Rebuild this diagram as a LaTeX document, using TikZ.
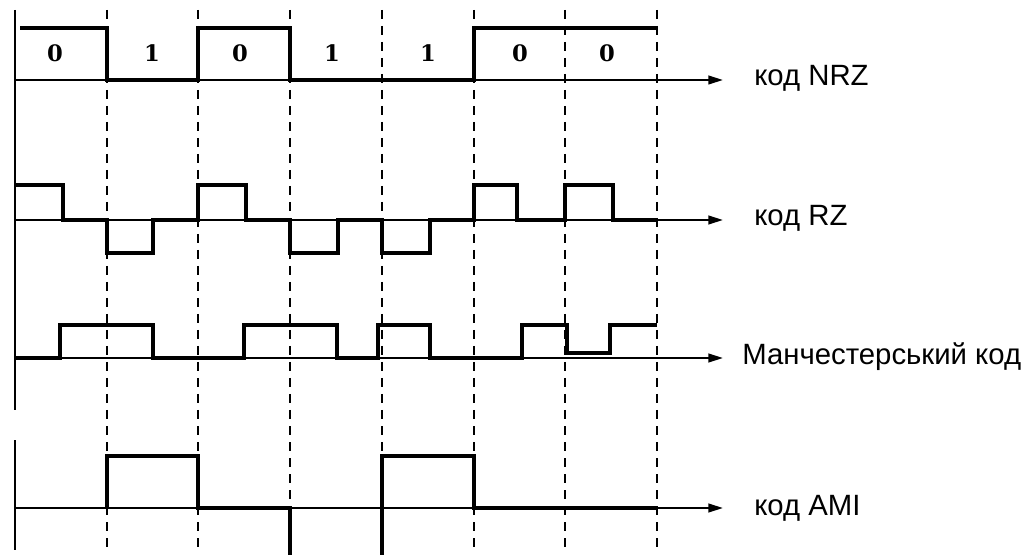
\documentclass[tikz,border=0pt]{standalone}
\usepackage{fontspec}
\setmainfont{Liberation Sans}
\newfontfamily\bitfont{DejaVu Serif}
\usetikzlibrary{arrows.meta}

\begin{document}
\begin{tikzpicture}[x=0.75pt,y=-0.75pt,
 sig/.style={line width=3pt,line join=miter},
 axl/.style={line width=1.5pt},
 arl/.style={axl,-{Triangle[length=11pt,width=6.5pt]}},
 bitln/.style={line width=0.9pt,dash pattern=on 7pt off 5pt},
 lbl/.style={anchor=base west,inner sep=0pt,font=\fontsize{22}{26}\selectfont},
 bitno/.style={inner sep=0pt,font=\bitfont\bfseries\fontsize{17}{19}\selectfont}]
\useasboundingbox (0,0) rectangle (1027,555);
% bit boundaries
\foreach \x in {107,198,290,382,474,565,657}
 \draw[bitln] (\x,10) -- (\x,552);
\draw[axl] (15,10) -- (15,410);
\draw[axl] (15,440) -- (15,550);
% time axes
\coordinate (o1) at (15,80);  \coordinate (e1) at (723,80);
\coordinate (o2) at (15,220); \coordinate (e2) at (723,220);
\coordinate (o3) at (15,358); \coordinate (e3) at (723,358);
\coordinate (o4) at (15,508); \coordinate (e4) at (723,508);
\draw[arl] (o1) -- (e1); \draw[arl] (o2) -- (e2);
\draw[arl] (o3) -- (e3); \draw[arl] (o4) -- (e4);
\node[lbl] (nrz) at (754,86) {код NRZ};
\node[lbl] (rz) at (754,226) {код RZ};
\node[lbl] (man) at (742,365) {Манчестерський код};
\node[lbl] (ami) at (754,515) {код AMI};
% bits
\foreach \x/\b in {55/0,152/1,240/0,332/1,428/1,520/0,607/0}
 \node[bitno] (b\x) at (\x,53) {\b};
% NRZ
\draw[sig] (20,28) -- (107,28) -- (107,80) -- (198,80) -- (198,28) -- (290,28) -- (290,80)
 -- (474,80) -- (474,28) -- (657,28);
% RZ
\draw[sig] (15,185) -- (63,185) -- (63,220) -- (107,220) -- (107,253) -- (153,253) -- (153,220)
 -- (198,220) -- (198,185) -- (246,185) -- (246,220) -- (290,220) -- (290,253) -- (338,253)
 -- (338,220) -- (382,220) -- (382,253) -- (430,253) -- (430,220) -- (474,220) -- (474,185)
 -- (517,185) -- (517,220) -- (565,220) -- (565,185) -- (613,185) -- (613,220) -- (657,220);
% Manchester
\draw[sig] (15,358) -- (60,358) -- (60,325) -- (153,325) -- (153,358) -- (244,358) -- (244,325)
 -- (337,325) -- (337,358) -- (378,358) -- (378,325) -- (430,325) -- (430,358) -- (522,358)
 -- (522,325) -- (567,325) -- (567,353) -- (610,353) -- (610,325) -- (657,325);
% AMI
\begin{scope}
\clip (0,0) rectangle (1027,555);
\draw[sig] (107,508) -- (107,456) -- (198,456) -- (198,508) -- (290,508) -- (290,570)
 -- (382,570) -- (382,456) -- (474,456) -- (474,508) -- (657,508);
\end{scope}
\end{tikzpicture}
\end{document}
